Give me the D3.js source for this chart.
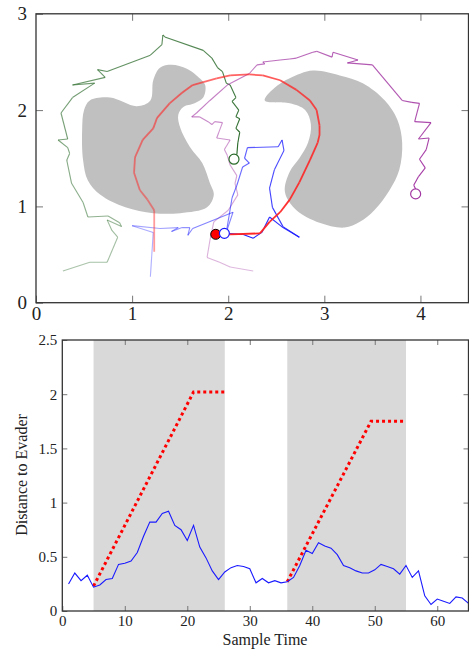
<!DOCTYPE html>
<html>
<head>
<meta charset="utf-8">
<script src="https://cdn.jsdelivr.net/npm/d3@7"></script>
<style>
  body { margin: 0; background: #fff; }
  svg text { font-family: "Liberation Serif", "DejaVu Serif", serif !important; fill: #222; }
</style>
</head>
<body>
<script>
// ---- top panel: obstacles and pursuit tracks (x, y in world units) ----
var obstacleLeft = [[0.56,2.10],[0.77,2.13],[1.05,2.04],[1.19,2.10],[1.22,2.31],[1.29,2.44],[1.41,2.47],
  [1.57,2.43],[1.67,2.36],[1.76,2.26],[1.74,2.13],[1.65,2.07],[1.53,2.03],[1.48,1.95],[1.50,1.82],
  [1.60,1.62],[1.73,1.45],[1.81,1.24],[1.85,1.12],[1.78,0.99],[1.50,0.93],[1.22,0.93],[0.93,0.99],
  [0.67,1.12],[0.54,1.27],[0.49,1.48],[0.48,1.79],[0.50,2.00]];
var obstacleRight = [[2.38,2.10],[2.48,2.23],[2.64,2.33],[2.88,2.41],[3.16,2.36],[3.40,2.28],[3.63,2.10],
  [3.76,1.90],[3.81,1.66],[3.78,1.38],[3.68,1.17],[3.52,0.96],[3.37,0.84],[3.21,0.78],[2.95,0.83],
  [2.71,0.96],[2.59,1.15],[2.64,1.36],[2.74,1.50],[2.83,1.66],[2.86,1.85],[2.80,2.00],[2.64,2.07]];

var trackGreen = [[0.28,0.33],[0.56,0.42],[0.74,0.42],[0.85,0.68],[0.79,0.75],[0.74,0.86],[0.89,0.79],
  [0.87,0.83],[0.75,0.90],[0.54,0.89],[0.49,1.04],[0.37,1.24],[0.32,1.48],[0.35,1.55],[0.33,1.61],
  [0.23,1.69],[0.33,1.70],[0.26,1.97],[0.38,2.13],[0.61,2.28],[0.38,2.26],[0.72,2.34],[0.64,2.42],
  [0.74,2.40],[1.19,2.57],[1.31,2.68],[1.32,2.78],[1.34,2.76],[1.74,2.62],[1.83,2.54],[1.89,2.44],
  [1.94,2.40],[1.98,2.28],[2.02,2.26],[2.08,2.13],[2.04,2.09],[2.11,2.00],[2.08,1.93],[2.12,1.91],
  [2.08,1.81],[2.12,1.77],[2.10,1.66],[2.09,1.54]];
var trackPurple = [[2.26,0.33],[2.02,0.37],[1.91,0.42],[1.78,0.47],[1.81,0.65],[1.85,0.84],[2.00,0.96],
  [2.10,1.12],[2.07,1.24],[2.09,1.32],[2.02,1.43],[1.99,1.53],[1.96,1.59],[2.02,1.69],[1.88,1.71],
  [1.94,1.87],[1.86,1.88],[1.83,1.85],[1.79,1.88],[1.70,1.93],[1.62,1.93],[1.67,1.97],[1.81,2.10],
  [1.99,2.26],[2.22,2.38],[2.30,2.47],[2.38,2.48],[2.36,2.50],[2.54,2.52],[2.64,2.53],[2.71,2.54],
  [2.88,2.60],[2.92,2.61],[3.08,2.55],[3.09,2.60],[3.35,2.52],[3.24,2.49],[3.50,2.47],[3.81,2.10],
  [3.91,2.08],[3.99,2.07],[3.94,1.88],[4.11,1.87],[3.98,1.70],[4.09,1.71],[4.06,1.59],[3.99,1.49],
  [4.05,1.40],[3.98,1.31],[3.93,1.22],[3.95,1.18]];
var trackRed = [[1.23,0.53],[1.23,0.96],[1.16,1.07],[1.08,1.17],[1.02,1.35],[1.03,1.51],[1.11,1.69],
  [1.22,1.81],[1.26,1.92],[1.39,2.07],[1.52,2.18],[1.63,2.26],[1.74,2.29],[1.88,2.33],[2.02,2.36],
  [2.22,2.37],[2.36,2.36],[2.54,2.31],[2.71,2.21],[2.85,2.10],[2.92,2.00],[2.95,1.84],[2.95,1.74],
  [2.93,1.66],[2.85,1.48],[2.74,1.25],[2.64,1.07],[2.54,0.94],[2.43,0.84],[2.33,0.72],[2.02,0.71],
  [1.87,0.71]];
var trackBlue = [[1.19,0.27],[1.22,0.73],[1.00,0.80],[1.29,0.77],[1.48,0.78],[1.41,0.74],[1.52,0.78],
  [1.60,0.78],[1.58,0.70],[1.63,0.77],[2.05,0.94],[1.98,0.73],[2.01,0.91],[2.04,1.09],[2.09,1.22],
  [2.15,1.41],[2.22,1.45],[2.17,1.50],[2.20,1.61],[2.52,1.62],[2.56,1.69],[2.58,1.58],[2.48,1.38],
  [2.43,1.19],[2.46,0.99],[2.57,0.79],[2.74,0.68],[2.57,0.78],[2.43,0.89],[2.35,0.73],[2.26,0.67],
  [2.15,0.71],[1.95,0.72]];

var endGreen = [2.06, 1.49];
var endPurple = [3.95, 1.13];
var endRed = [1.87, 0.71];
var endBlue = [1.96, 0.72];

// ---- bottom panel ----
var distance = [0.25,0.35,0.28,0.33,0.22,0.24,0.29,0.30,0.43,0.44,0.46,0.54,0.69,0.82,0.82,0.90,0.92,
  0.79,0.75,0.65,0.79,0.59,0.49,0.37,0.29,0.36,0.40,0.42,0.41,0.39,0.26,0.30,0.26,0.28,0.26,0.27,
  0.31,0.42,0.56,0.53,0.63,0.60,0.58,0.52,0.42,0.40,0.37,0.35,0.35,0.38,0.43,0.41,0.39,0.34,0.42,
  0.31,0.37,0.14,0.06,0.11,0.09,0.07,0.13,0.12,0.07];
var shadedSpans = [[5, 26], [36, 55]];
var guardA = [[5, 0.23], [21, 2.02], [26, 2.02]];
var guardB = [[36, 0.27], [49.4, 1.75], [55, 1.75]];

var svg = d3.select("body").append("svg").attr("width", 469).attr("height", 650);

// ===== top panel =====
var x1 = d3.scaleLinear().domain([0, 4.5]).range([36, 468.5]);
var y1 = d3.scaleLinear().domain([0, 3]).range([302.7, 13.8]);

svg.append("clipPath").attr("id", "clipTop").append("rect")
  .attr("x", 36).attr("y", 13.8).attr("width", 432.5).attr("height", 288.9);
var gTop = svg.append("g").attr("clip-path", "url(#clipTop)");

var blob = d3.line().x(d => x1(d[0])).y(d => y1(d[1])).curve(d3.curveCatmullRomClosed.alpha(0.5));
[obstacleLeft, obstacleRight].forEach(function(o){
  gTop.append("path").attr("d", blob(o)).attr("fill", "#c0c0c0");
});

function drawTrack(pts, color, width, lo){
  var seg = d3.line().x(d => x1(d[0])).y(d => y1(d[1]));
  for (var i = 0; i < pts.length - 1; i++) {
    var t = i / (pts.length - 2);
    gTop.append("path")
      .attr("d", seg([pts[i], pts[i+1]]))
      .attr("fill", "none")
      .attr("stroke", color)
      .attr("stroke-width", width)
      .attr("stroke-linejoin", "round")
      .attr("stroke-opacity", lo + (1 - lo) * t);
  }
}
drawTrack(trackGreen, "#2a6a2a", 1.1, 0.4);
drawTrack(trackPurple, "#a236a2", 1.1, 0.35);
drawTrack(trackBlue, "#1a1aff", 1.1, 0.35);
drawTrack(trackRed, "#ff2222", 1.8, 0.45);

// tails to the end markers
gTop.append("line").attr("x1", x1(2.09)).attr("y1", y1(1.54)).attr("x2", x1(endGreen[0])).attr("y2", y1(endGreen[1]))
  .attr("stroke", "#2a6a2a").attr("stroke-width", 1.1);
gTop.append("circle").attr("cx", x1(endGreen[0])).attr("cy", y1(endGreen[1])).attr("r", 5)
  .attr("fill", "#fff").attr("stroke", "#2a6a2a").attr("stroke-width", 1.2);
gTop.append("circle").attr("cx", x1(endPurple[0])).attr("cy", y1(endPurple[1])).attr("r", 5)
  .attr("fill", "#fff").attr("stroke", "#a236a2").attr("stroke-width", 1.2);
gTop.append("circle").attr("cx", x1(endRed[0])).attr("cy", y1(endRed[1])).attr("r", 5)
  .attr("fill", "#ff0000").attr("stroke", "#000").attr("stroke-width", 1);
gTop.append("circle").attr("cx", x1(endBlue[0])).attr("cy", y1(endBlue[1])).attr("r", 5)
  .attr("fill", "#fff").attr("stroke", "#1a1aff").attr("stroke-width", 1.2);

// frame + ticks
function styleAxis(g){
  g.attr("font-family", null);
  g.select(".domain").remove();
  g.selectAll(".tick line").attr("stroke", "#777");
}
svg.append("g").attr("transform", "translate(0,302.7)")
  .call(d3.axisBottom(x1).tickValues([0,1,2,3,4]).tickSize(-7).tickPadding(4).tickFormat(d3.format("d")))
  .call(styleAxis).selectAll("text").attr("font-size", 19);
svg.append("g").attr("transform", "translate(0,13.8)")
  .call(d3.axisTop(x1).tickValues([1,2,3,4]).tickSize(-7).tickFormat(""))
  .call(styleAxis);
svg.append("g").attr("transform", "translate(36,0)")
  .call(d3.axisLeft(y1).tickValues([0,1,2,3]).tickSize(-7).tickPadding(9).tickFormat(d3.format("d")))
  .call(styleAxis).selectAll("text").attr("font-size", 19);
svg.append("g").attr("transform", "translate(468.5,0)")
  .call(d3.axisRight(y1).tickValues([1,2]).tickSize(-7).tickFormat(""))
  .call(styleAxis);
svg.append("rect").attr("x", 36).attr("y", 13.8).attr("width", 432.5).attr("height", 288.9)
  .attr("fill", "none").attr("stroke", "#333").attr("stroke-width", 1.3);

// ===== bottom panel =====
var x2 = d3.scaleLinear().domain([0, 65]).range([62.3, 468.5]);
var y2 = d3.scaleLinear().domain([0, 2.5]).range([611, 340]);

shadedSpans.forEach(function(s){
  svg.append("rect").attr("x", x2(s[0])).attr("y", y2(2.5))
    .attr("width", x2(s[1]) - x2(s[0])).attr("height", y2(0) - y2(2.5))
    .attr("fill", "#d9d9d9");
});

var guardLine = d3.line().x(d => x2(d[0])).y(d => y2(d[1]));
[guardA, guardB].forEach(function(g){
  svg.append("path").attr("d", guardLine(g)).attr("fill", "none")
    .attr("stroke", "#ff0000").attr("stroke-width", 3).attr("stroke-dasharray", "3,3");
});

svg.append("path")
  .attr("d", d3.line().x((d, i) => x2(i + 1)).y(d => y2(d))(distance))
  .attr("fill", "none").attr("stroke", "#1a1aff").attr("stroke-width", 1.1);

svg.append("g").attr("transform", "translate(0,611)")
  .call(d3.axisBottom(x2).tickValues([0,10,20,30,40,50,60]).tickSize(-5).tickPadding(4))
  .call(styleAxis).selectAll("text").attr("font-size", 15);
svg.append("g").attr("transform", "translate(0,340)")
  .call(d3.axisTop(x2).tickValues([10,20,30,40,50,60]).tickSize(-5).tickFormat(""))
  .call(styleAxis);
svg.append("g").attr("transform", "translate(62.3,0)")
  .call(d3.axisLeft(y2).tickValues([0,0.5,1,1.5,2,2.5]).tickSize(-5).tickPadding(5).tickFormat(d => d3.format("")(d)))
  .call(styleAxis).selectAll("text").attr("font-size", 15);
svg.append("g").attr("transform", "translate(468.5,0)")
  .call(d3.axisRight(y2).tickValues([0.5,1,1.5,2]).tickSize(-5).tickFormat(""))
  .call(styleAxis);
svg.append("rect").attr("x", 62.3).attr("y", 340).attr("width", 406.2).attr("height", 271)
  .attr("fill", "none").attr("stroke", "#333").attr("stroke-width", 1.3);

svg.append("text").attr("x", 265).attr("y", 645).attr("text-anchor", "middle")
  .attr("font-size", 16).text("Sample Time");
svg.append("text").attr("transform", "translate(27,475) rotate(-90)").attr("text-anchor", "middle")
  .attr("font-size", 16).text("Distance to Evader");
</script>
</body>
</html>
